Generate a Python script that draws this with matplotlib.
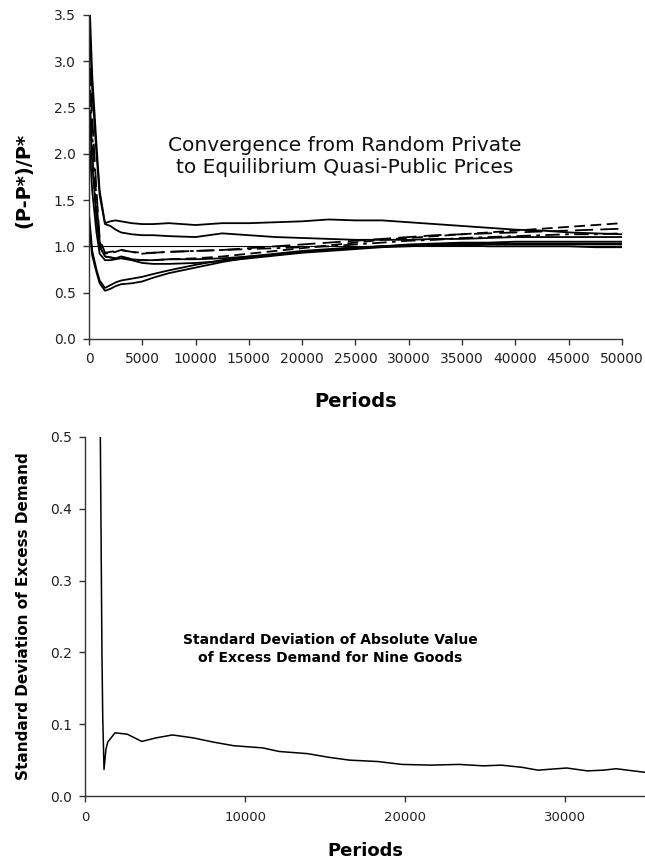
import matplotlib
matplotlib.use("Agg")
import matplotlib.pyplot as plt

plt.rcParams['font.family'] = ['DejaVu Sans']

# top panel: relative price paths of the nine goods
periods = [0, 300, 700, 1000, 1500, 2000, 2500, 3000, 4000, 5000, 6000, 7500,
           10000, 12500, 15000, 17500, 20000, 22500, 25000, 27500, 30000,
           32500, 35000, 37500, 40000, 42500, 45000, 47500, 50000]

good_a = [3.8, 2.85, 2.1, 1.6, 1.25, 1.27, 1.28, 1.27, 1.25, 1.24, 1.24, 1.25,
          1.23, 1.25, 1.25, 1.26, 1.27, 1.29, 1.28, 1.28, 1.26,
          1.24, 1.22, 1.2, 1.18, 1.17, 1.15, 1.14, 1.13]
good_b = [3.5, 2.7, 2.0, 1.55, 1.24, 1.22, 1.18, 1.15, 1.13, 1.12, 1.12, 1.11,
          1.1, 1.14, 1.12, 1.1, 1.09, 1.08, 1.07, 1.07, 1.07,
          1.08, 1.08, 1.09, 1.1, 1.1, 1.1, 1.1, 1.1]
good_c = [3.0, 2.2, 1.5, 1.05, 0.92, 0.93, 0.94, 0.96, 0.94, 0.92, 0.93, 0.94,
          0.95, 0.96, 0.97, 0.98, 0.99, 1.0, 1.02, 1.04, 1.06,
          1.07, 1.09, 1.1, 1.11, 1.12, 1.13, 1.13, 1.14]
good_d = [2.6, 1.9, 1.3, 1.0, 0.89, 0.88, 0.87, 0.89, 0.86, 0.85, 0.85, 0.86,
          0.86, 0.87, 0.89, 0.91, 0.94, 0.96, 0.98, 1.0, 1.02,
          1.03, 1.04, 1.04, 1.05, 1.05, 1.05, 1.05, 1.05]
good_e = [2.2, 1.6, 1.15, 0.92, 0.85, 0.85, 0.86, 0.87, 0.85, 0.82, 0.81, 0.81,
          0.82, 0.84, 0.87, 0.9, 0.93, 0.95, 0.97, 0.99, 1.0,
          1.01, 1.02, 1.02, 1.02, 1.02, 1.02, 1.02, 1.02]
good_f = [1.35, 0.95, 0.75, 0.63, 0.55, 0.58, 0.61, 0.63, 0.65, 0.67, 0.7, 0.74,
          0.8, 0.85, 0.89, 0.92, 0.95, 0.97, 0.99, 1.0, 1.01,
          1.01, 1.01, 1.0, 1.0, 1.0, 1.0, 0.99, 0.99]
good_g = [1.25, 0.9, 0.72, 0.6, 0.52, 0.54, 0.57, 0.59, 0.6, 0.62, 0.66, 0.71,
          0.77, 0.83, 0.88, 0.91, 0.94, 0.96, 0.98, 1.0, 1.01,
          1.02, 1.03, 1.03, 1.03, 1.03, 1.03, 1.03, 1.03]
good_h = [2.8, 2.0, 1.35, 1.0, 0.89, 0.88, 0.87, 0.89, 0.86, 0.85, 0.85, 0.86,
          0.87, 0.89, 0.92, 0.95, 0.98, 1.01, 1.04, 1.07, 1.09,
          1.11, 1.13, 1.15, 1.17, 1.19, 1.21, 1.23, 1.25]
good_i = [3.2, 2.4, 1.6, 1.08, 0.93, 0.94, 0.95, 0.96, 0.94, 0.93, 0.93, 0.94,
          0.95, 0.96, 0.98, 1.0, 1.02, 1.04, 1.06, 1.08, 1.1,
          1.12, 1.13, 1.14, 1.15, 1.16, 1.17, 1.18, 1.19]

goods = [good_a, good_b, good_c, good_d, good_e, good_f, good_g, good_h, good_i]
styles = ['-', '-', (0, (8, 3, 2, 3)), '-', '-', '-', '-', (0, (6, 3)), (0, (10, 4))]

# bottom panel: std. dev. of absolute excess demand
sd_periods = [950, 1050, 1100, 1180, 1300, 1410, 1870, 2640, 3540, 4440, 5460,
              6740, 8030, 9300, 11100, 12130, 13900, 15200, 16500, 18300,
              19800, 21600, 23400, 24900, 26000, 27300, 28300, 30100, 31400,
              32400, 33200, 33900, 35000]
sd_values = [0.5, 0.2, 0.11, 0.037, 0.065, 0.075, 0.088, 0.086, 0.076, 0.081,
             0.085, 0.081, 0.075, 0.070, 0.067, 0.062, 0.059, 0.054, 0.050,
             0.048, 0.044, 0.043, 0.044, 0.042, 0.043, 0.040, 0.036, 0.039,
             0.035, 0.036, 0.038, 0.036, 0.033]

fig = plt.figure(figsize=(6.45, 8.6), dpi=100)
ax1 = fig.add_axes([0.138, 0.606, 0.826, 0.3766])
ax2 = fig.add_axes([0.132, 0.0744, 0.868, 0.4176])

axis_col = '#333333'

for vals, ls in zip(goods, styles):
    ax1.plot(periods, vals, color='black', lw=1.3, linestyle=ls)
ax1.axhline(1.0, color='black', lw=0.8)

ax1.set_xlim(0, 50000)
ax1.set_ylim(0, 3.5)
ax1.set_xticks(range(0, 50001, 5000))
ax1.set_yticks([0, 0.5, 1.0, 1.5, 2.0, 2.5, 3.0, 3.5])
ax1.set_yticklabels(['0.0', '0.5', '1.0', '1.5', '2.0', '2.5', '3.0', '3.5'])
ax1.set_xlabel('Periods', fontsize=14, fontweight='bold', va='top')
ax1.xaxis.set_label_coords(0.5, -0.165)
ax1.set_ylabel('(P-P*)/P*', fontsize=14, fontweight='bold')
ax1.yaxis.set_label_coords(-0.105, 0.488)
ax1.text(24000, 1.97, 'Convergence from Random Private\nto Equilibrium Quasi-Public Prices',
         ha='center', va='center', fontsize=14.5, linespacing=1.25, color='#111111')

ax2.plot(sd_periods, sd_values, color='black', lw=1.1)
ax2.set_xlim(0, 35000)
ax2.set_ylim(0, 0.5)
ax2.set_xticks([0, 10000, 20000, 30000])
ax2.set_yticks([0, 0.1, 0.2, 0.3, 0.4, 0.5])
ax2.set_yticklabels(['0.0', '0.1', '0.2', '0.3', '0.4', '0.5'])
ax2.set_xlabel('Periods', fontsize=13, fontweight='bold', va='top')
ax2.xaxis.set_label_coords(0.5, -0.128)
ax2.set_ylabel('Standard Deviation of Excess Demand', fontsize=11, fontweight='bold')
ax2.yaxis.set_label_coords(-0.096, 0.5)
ax2.text(15300, 0.205, 'Standard Deviation of Absolute Value\nof Excess Demand for Nine Goods',
         ha='center', va='center', fontsize=10, fontweight='bold', linespacing=1.4)

for ax in (ax1, ax2):
    ax.spines['top'].set_visible(False)
    ax.spines['right'].set_visible(False)
    for s in ('left', 'bottom'):
        ax.spines[s].set_color(axis_col)
        ax.spines[s].set_linewidth(1.0)
    ax.tick_params(direction='out', length=4.5, width=1.0, color=axis_col,
                   labelsize=10, pad=5, labelcolor='#222222')
ax2.tick_params(axis='x', labelsize=9.5, pad=6)

fig.savefig('out.png', dpi=100)
